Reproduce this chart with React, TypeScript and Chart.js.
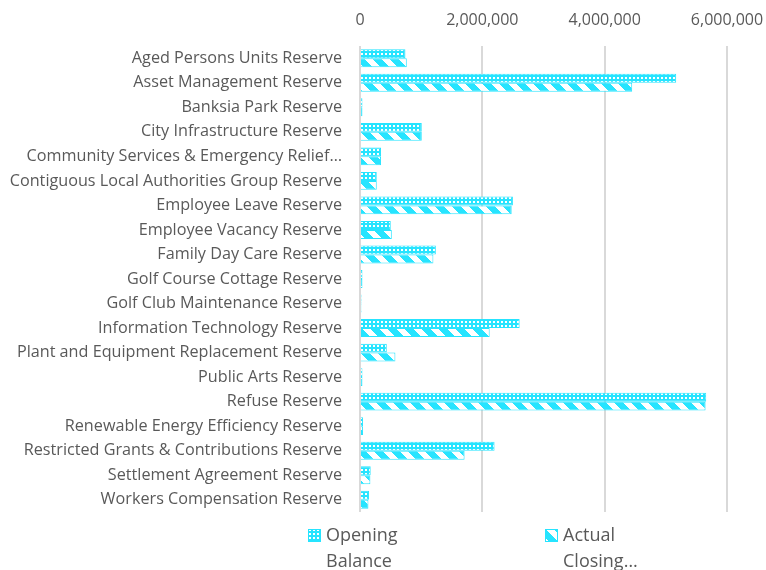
import { useEffect, useRef } from "react";
import { Chart, registerables } from "chart.js";

Chart.register(...registerables);

const categories = [
  "Aged Persons Units Reserve",
  "Asset Management Reserve",
  "Banksia Park Reserve",
  "City Infrastructure Reserve",
  "Community Services & Emergency Relief…",
  "Contiguous Local Authorities Group Reserve",
  "Employee Leave Reserve",
  "Employee Vacancy Reserve",
  "Family Day Care Reserve",
  "Golf Course Cottage Reserve",
  "Golf Club Maintenance Reserve",
  "Information Technology Reserve",
  "Plant and Equipment Replacement Reserve",
  "Public Arts Reserve",
  "Refuse Reserve",
  "Renewable Energy Efficiency Reserve",
  "Restricted Grants & Contributions Reserve",
  "Settlement Agreement Reserve",
  "Workers Compensation Reserve",
];

const openingBalance = [
  743000, 5170000, 40000, 1010000, 344000, 274000, 2500000, 503000, 1240000,
  40000, 25000, 2610000, 438000, 40000, 5660000, 50000, 2200000, 175000, 148000,
];

const actualClosing = [
  765000, 4450000, 40000, 1010000, 344000, 274000, 2480000, 520000, 1200000,
  40000, 25000, 2120000, 579000, 40000, 5650000, 50000, 1710000, 170000, 138000,
];

const seriesLabels = [
  ["Opening", "Balance"],
  ["Actual", "Closing…"],
];

const xTickValues = [0, 2000000, 4000000, 6000000];

const CYAN = "rgb(38,228,255)";
const TEXT = "#595959";
const FONT = '"Open Sans", sans-serif';

function makeDots(): CanvasPattern {
  const c = document.createElement("canvas");
  c.width = 4;
  c.height = 4;
  const g = c.getContext("2d")!;
  g.fillStyle = CYAN;
  g.fillRect(0, 0, 4, 4);
  g.fillStyle = "#ffffff";
  g.fillRect(1, 1, 2, 2);
  return g.createPattern(c, "repeat")!;
}

function makeStripes(): CanvasPattern {
  const n = 17;
  const c = document.createElement("canvas");
  c.width = n;
  c.height = n;
  const g = c.getContext("2d")!;
  const img = g.createImageData(n, n);
  for (let y = 0; y < n; y++) {
    for (let x = 0; x < n; x++) {
      const i = (y * n + x) * 4;
      const white = ((((x - y) % n) + n) % n) < 8;
      img.data[i] = white ? 255 : 38;
      img.data[i + 1] = white ? 255 : 228;
      img.data[i + 2] = 255;
      img.data[i + 3] = 255;
    }
  }
  g.putImageData(img, 0, 0);
  return g.createPattern(c, "repeat")!;
}

const legendPlugin = {
  id: "customLegend",
  afterDraw(chart: any) {
    const ctx = chart.ctx as CanvasRenderingContext2D;
    const xs = [300, 537];
    const y = chart.chartArea.bottom + 24;
    ctx.save();
    chart.data.datasets.forEach((ds: any, i: number) => {
      const bx = xs[i];
      ctx.fillStyle = ds.backgroundColor;
      ctx.fillRect(bx, y - 7, 13, 13);
      ctx.strokeStyle = CYAN;
      ctx.lineWidth = 1;
      ctx.strokeRect(bx + 0.5, y - 6.5, 12, 12);
      ctx.fillStyle = TEXT;
      ctx.font = `18px ${FONT}`;
      ctx.textBaseline = "middle";
      ctx.textAlign = "left";
      const lines: string[] = ds.legendLines;
      lines.forEach((t, k) => ctx.fillText(t, bx + 18, y + k * 26));
    });
    ctx.restore();
  },
};

export default function App() {
  const ref = useRef<HTMLCanvasElement>(null);

  useEffect(() => {
    if (!ref.current) return;
    const chart = new Chart(ref.current, {
      type: "bar",
      data: {
        labels: categories,
        datasets: [
          {
            label: seriesLabels[0].join(" "),
            legendLines: seriesLabels[0],
            data: openingBalance,
            backgroundColor: makeDots(),
            borderColor: CYAN,
            borderWidth: 1,
            categoryPercentage: 0.73,
            barPercentage: 1,
          } as any,
          {
            label: seriesLabels[1].join(" "),
            legendLines: seriesLabels[1],
            data: actualClosing,
            backgroundColor: makeStripes(),
            borderColor: CYAN,
            borderWidth: 1,
            categoryPercentage: 0.73,
            barPercentage: 1,
          } as any,
        ],
      },
      options: {
        indexAxis: "y",
        animation: false,
        responsive: true,
        maintainAspectRatio: false,
        events: [],
        layout: { padding: { bottom: 58 } },
        plugins: {
          legend: { display: false },
          tooltip: { enabled: false },
        },
        scales: {
          x: {
            position: "top",
            min: 0,
            max: 6000000,
            afterBuildTicks: (scale: any) => {
              scale.ticks = xTickValues.map((v) => ({ value: v }));
            },
            afterFit: (scale: any) => {
              scale.height = 38;
              scale.paddingRight = 36;
              scale.paddingLeft = 0;
            },
            grid: {
              color: "#d9d9d9",
              lineWidth: 2,
              drawTicks: false,
            },
            border: { display: false },
            ticks: {
              color: TEXT,
              font: { family: FONT, size: 16 },
              padding: 16,
              callback: (v: any) => Number(v).toLocaleString("en-US"),
            },
          },
          y: {
            afterFit: (scale: any) => {
              scale.width = 352;
            },
            grid: { display: false, drawTicks: false },
            border: { display: false },
            ticks: {
              color: TEXT,
              font: { family: FONT, size: 16.2 },
              padding: 18,
              autoSkip: false,
            },
          },
        },
      },
      plugins: [legendPlugin],
    });
    return () => chart.destroy();
  }, []);

  return (
    <div style={{ position: "fixed", left: 8, top: 8, width: 755, height: 562 }}>
      <canvas ref={ref} />
    </div>
  );
}
